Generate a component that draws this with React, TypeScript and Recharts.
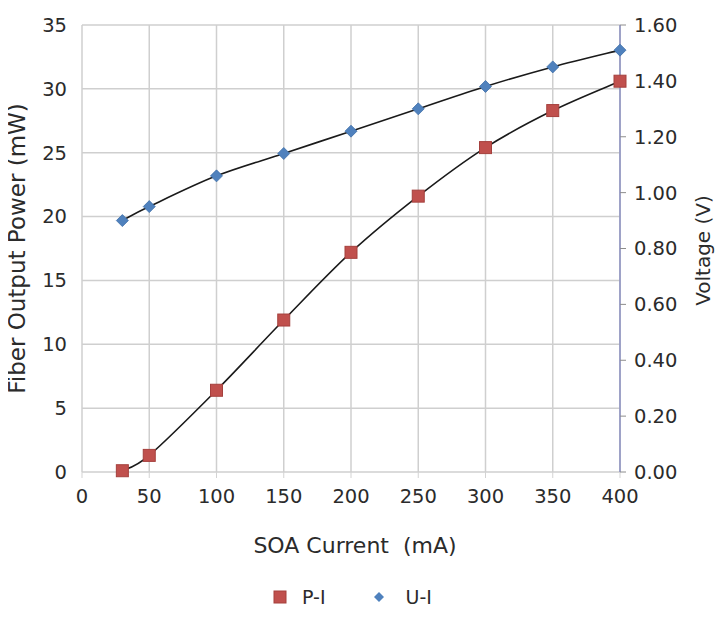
import React from 'react';
import { ComposedChart, Line, XAxis, YAxis, CartesianGrid, Legend } from 'recharts';

const currents = [30, 50, 100, 150, 200, 250, 300, 350, 400];
const powerMW = [0.1, 1.3, 6.4, 11.9, 17.2, 21.6, 25.4, 28.3, 30.6];
const voltageV = [0.9, 0.95, 1.06, 1.14, 1.22, 1.3, 1.38, 1.45, 1.51];

const xTicks = [0, 50, 100, 150, 200, 250, 300, 350, 400];
const leftTicks = [0, 5, 10, 15, 20, 25, 30, 35];
const rightTicks = [0, 0.2, 0.4, 0.6, 0.8, 1.0, 1.2, 1.4, 1.6];

const data = currents.map((c, i) => ({ current: c, power: powerMW[i], voltage: voltageV[i] }));

const FONT = '"DejaVu Sans", "Open Sans", sans-serif';
const TEXT = '#2b2b2b';
const RED = '#c0504d';
const RED_DARK = '#a5403d';
const BLUE = '#4f81bd';

// Excel-like smoothed line (Catmull-Rom through the points)
const smoothCurve: any = (context: any) => {
  let pts: [number, number][] = [];
  return {
    areaStart() {},
    areaEnd() {},
    lineStart() {
      pts = [];
    },
    lineEnd() {
      const n = pts.length;
      if (n === 0) return;
      context.moveTo(pts[0][0], pts[0][1]);
      for (let i = 0; i < n - 1; i++) {
        const p0 = pts[i - 1] || pts[i];
        const p1 = pts[i];
        const p2 = pts[i + 1];
        const p3 = pts[i + 2] || p2;
        context.bezierCurveTo(
          p1[0] + (p2[0] - p0[0]) / 6,
          p1[1] + (p2[1] - p0[1]) / 6,
          p2[0] - (p3[0] - p1[0]) / 6,
          p2[1] - (p3[1] - p1[1]) / 6,
          p2[0],
          p2[1]
        );
      }
    },
    point(x: number, y: number) {
      pts.push([+x, +y]);
    },
  };
};

const SquareDot = (props: any) => {
  const { cx, cy, index } = props;
  if (cx == null || cy == null) return <g key={`s${index}`} />;
  const s = 12;
  return (
    <rect key={`s${index}`} x={cx - s / 2} y={cy - s / 2} width={s} height={s} fill={RED} stroke={RED_DARK} strokeWidth={1} />
  );
};

const DiamondDot = (props: any) => {
  const { cx, cy, index } = props;
  if (cx == null || cy == null) return <g key={`d${index}`} />;
  const r = 6;
  return (
    <polygon
      key={`d${index}`}
      points={`${cx},${cy - r} ${cx + r},${cy} ${cx},${cy + r} ${cx - r},${cy}`}
      fill={BLUE}
      stroke="#3f6fa8"
      strokeWidth={0.8}
    />
  );
};

const LegendContent = () => (
  <div
    style={{
      display: 'flex',
      justifyContent: 'center',
      alignItems: 'center',
      fontFamily: FONT,
      fontSize: 19,
      color: TEXT,
      paddingRight: 20,
      height: 40,
    }}
  >
    <svg width={14} height={14} style={{ marginRight: 15 }}>
      <rect x={1} y={1} width={12} height={12} fill={RED} stroke={RED_DARK} />
    </svg>
    <span style={{ marginRight: 47 }}>P-I</span>
    <svg width={12} height={12} style={{ marginRight: 21 }}>
      <polygon points="6,1 11,6 6,11 1,6" fill={BLUE} />
    </svg>
    <span>U-I</span>
  </div>
);

const LeftLabel = (props: any) => {
  const { viewBox } = props;
  const x = viewBox.x + 17;
  const y = viewBox.y + viewBox.height / 2;
  return (
    <text x={x} y={y} transform={`rotate(-90, ${x}, ${y})`} textAnchor="middle" dominantBaseline="central" fontFamily={FONT} fontSize={23} fill={TEXT}>
      Fiber Output Power (mW)
    </text>
  );
};

const RightLabel = (props: any) => {
  const { viewBox } = props;
  const x = viewBox.x + 83;
  const y = viewBox.y + viewBox.height / 2 + 2;
  return (
    <text x={x} y={y} transform={`rotate(-90, ${x}, ${y})`} textAnchor="middle" dominantBaseline="central" fontFamily={FONT} fontSize={20} fill={TEXT}>
      Voltage (V)
    </text>
  );
};

const BottomLabel = (props: any) => {
  const { viewBox } = props;
  const x = viewBox.x + viewBox.width / 2 + 4;
  const y = viewBox.y + 73;
  return (
    <text x={x} y={y} textAnchor="middle" dominantBaseline="central" fontFamily={FONT} fontSize={22} fill={TEXT} style={{ whiteSpace: 'pre' }}>
      {'SOA Current\u00A0\u00A0(mA)'}
    </text>
  );
};

const tickStyle = { fontFamily: FONT, fontSize: 19.5, fill: TEXT };

export default function App() {
  return (
    <div style={{ width: 725, height: 622, marginLeft: -8, marginTop: -8, background: '#fff' }}>
      <ComposedChart width={725} height={622} data={data} margin={{ top: 25, right: 0, bottom: 5, left: 0 }}>
        <CartesianGrid yAxisId="left" stroke="#cfcfcf" strokeWidth={1.5} vertical horizontal />
        <XAxis
          dataKey="current"
          type="number"
          domain={[0, 400]}
          ticks={xTicks}
          interval={0}
          height={105}
          axisLine={false}
          tickLine={{ stroke: '#d3d3d3' }}
          tickSize={6}
          tickMargin={11}
          tick={tickStyle}
          label={<BottomLabel />}
        />
        <YAxis
          yAxisId="left"
          domain={[0, 35]}
          ticks={leftTicks}
          interval={0}
          width={82}
          axisLine={false}
          tickLine={false}
          tickSize={0}
          tickMargin={15}
          tick={tickStyle}
          label={<LeftLabel />}
        />
        <YAxis
          yAxisId="right"
          orientation="right"
          domain={[0, 1.6]}
          ticks={rightTicks}
          interval={0}
          width={105}
          axisLine={{ stroke: '#8a8fc0', strokeWidth: 1.5 }}
          tickLine={{ stroke: '#8c8c8c' }}
          tickSize={6}
          tickMargin={8}
          tick={tickStyle}
          tickFormatter={(v: number) => v.toFixed(2)}
          label={<RightLabel />}
        />
        <Legend verticalAlign="bottom" height={40} content={<LegendContent />} wrapperStyle={{ left: 0, width: 725 }} />
        <Line
          yAxisId="left"
          dataKey="power"
          name="P-I"
          type={smoothCurve}
          stroke="#1a1a1a"
          strokeWidth={1.6}
          dot={SquareDot}
          activeDot={false}
          isAnimationActive={false}
        />
        <Line
          yAxisId="right"
          dataKey="voltage"
          name="U-I"
          type={smoothCurve}
          stroke="#1a1a1a"
          strokeWidth={1.6}
          dot={DiamondDot}
          activeDot={false}
          isAnimationActive={false}
        />
      </ComposedChart>
    </div>
  );
}
